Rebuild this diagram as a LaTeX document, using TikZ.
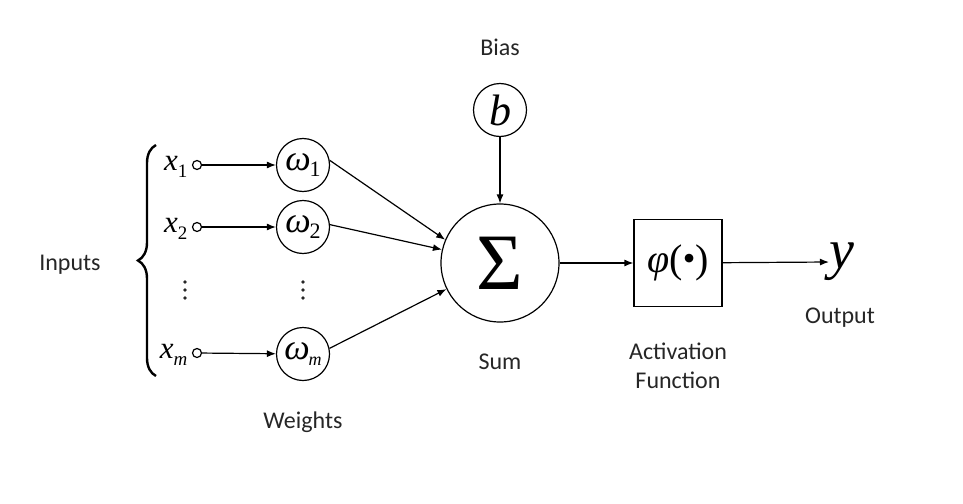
\documentclass[tikz,border=0pt]{standalone}
\usepackage{fontspec}
\setmainfont{Carlito}
\newfontfamily\serf{Liberation Serif}
\usetikzlibrary{arrows.meta,decorations.pathreplacing}
\begin{document}
\begin{tikzpicture}[x=1pt,y=-1pt,
  line width=1.2pt,
  lbl/.style={font=\fontsize{24}{29}\selectfont, text=black!85, inner sep=0pt},
  wnode/.style={circle, draw, minimum size=53pt, inner sep=0pt},
  innode/.style={circle, draw, minimum size=9pt, inner sep=0pt},
  xlbl/.style={inner sep=0pt, anchor=east},
  arr/.style={-{Latex[length=9pt,width=7pt]}},
  dotmark/.style={fill=black!85}
]
\useasboundingbox (0,0) rectangle (963,503);
\fill[white] (0,0) rectangle (963,503);

% inputs
\node[innode] (in1) at (197,165) {};
\node[innode] (in2) at (197,227) {};
\node[innode] (inm) at (197,353) {};
\node[xlbl] (x1) at (188,167) {\serf\fontsize{31}{31}\selectfont\itshape x\raisebox{-7pt}{\upshape\fontsize{19}{19}\selectfont 1}};
\node[xlbl] (x2) at (188,229) {\serf\fontsize{31}{31}\selectfont\itshape x\raisebox{-7pt}{\upshape\fontsize{19}{19}\selectfont 2}};
\node[xlbl] (xm) at (188,355) {\serf\fontsize{31}{31}\selectfont\itshape x\raisebox{-7pt}{\fontsize{19}{19}\selectfont m}};

% weights
\node[wnode] (w1) at (303,165) {\serf\fontsize{36}{36}\selectfont\itshape ω\hspace{-1pt}\raisebox{-6pt}{\upshape\fontsize{22}{22}\selectfont 1}};
\node[wnode] (w2) at (303,227) {\serf\fontsize{36}{36}\selectfont\itshape ω\hspace{-1pt}\raisebox{-6pt}{\upshape\fontsize{22}{22}\selectfont 2}};
\node[wnode] (wm) at (303,354) {\serf\fontsize{36}{36}\selectfont\itshape ω\hspace{-1pt}\raisebox{-6pt}{\fontsize{18}{18}\selectfont m}};

% vertical dots
\foreach \yy in {282,290,298} {
  \fill[dotmark] (185,\yy) circle (1.8pt);
  \fill[dotmark] (303,\yy) circle (1.8pt);
}

% sum, bias, activation
\node[circle, draw, minimum size=118pt, inner sep=0pt] (sum) at (500,263) {\serf\fontsize{80}{80}\selectfont Σ};
\node[circle, draw, minimum size=53pt, inner sep=0pt] (b) at (500,110) {\serf\fontsize{44}{44}\selectfont\itshape b};
\node[draw, minimum width=88pt, minimum height=87pt, inner sep=0pt] (act) at (678,263) {\serf\fontsize{40}{40}\selectfont\itshape φ\upshape(\raisebox{2pt}{\fontsize{36}{36}\selectfont •})};
\node[inner sep=0pt] (y) at (842,262) {\serf\fontsize{56}{56}\selectfont\itshape y};

% connectors
\draw[arr] (in1) -- (w1);
\draw[arr] (in2) -- (w2);
\draw[arr] (inm) -- (wm);
\draw[arr] (w1.10) -- (sum.157);
\draw[arr] (w2.5) -- (sum.167);
\draw[arr] (wm.12) -- (sum.206);
\draw[arr] (b) -- (sum);
\draw[arr] (sum) -- (act);
\draw[arr] (act) -- (y.west);

% brace
\coordinate (bb) at (156,376);
\coordinate (bt) at (156,145);
\draw[line width=2.4pt, decorate, decoration={brace, amplitude=18pt}] (bb) -- (bt);

% labels
\node[lbl] (inputs) at (70,265) {Inputs};
\node[lbl] (weights) at (303,422) {Weights};
\node[lbl] (bias) at (500,47) {Bias};
\node[lbl] (sumlbl) at (500,362) {Sum};
\node[lbl, align=center] (actlbl) at (678,366) {Activation\\Function};
\node[lbl] (out) at (840,318) {Output};
\end{tikzpicture}
\end{document}
